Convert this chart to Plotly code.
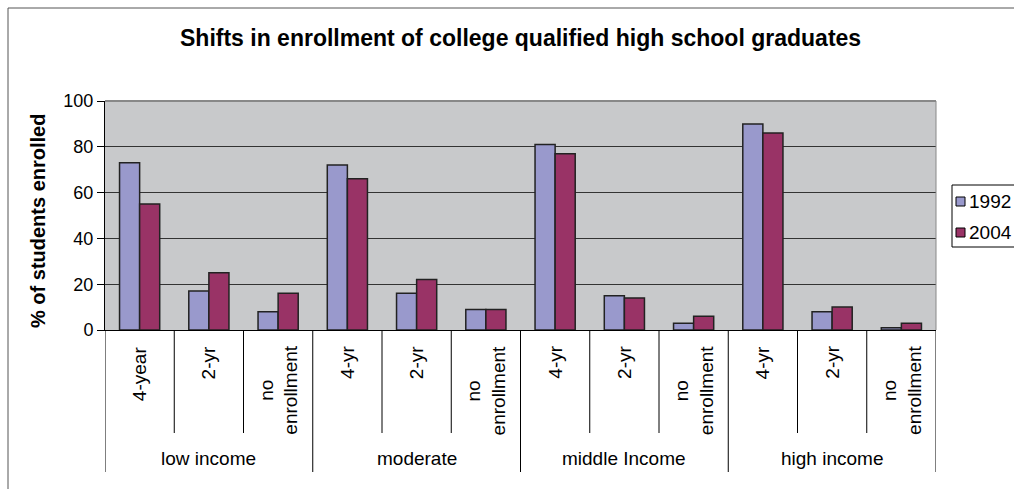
import plotly.graph_objects as go

title = "Shifts in enrollment of college qualified high school graduates"
y_title = "% of students enrolled"
groups = ["low income", "moderate", "middle Income", "high income"]
inner_labels = ["4-year", "2-yr", "no<br>enrollment",
                "4-yr", "2-yr", "no<br>enrollment",
                "4-yr", "2-yr", "no<br>enrollment",
                "4-yr", "2-yr", "no<br>enrollment"]
series_names = ["1992", "2004"]
values_1992 = [73, 17, 8, 72, 16, 9, 81, 15, 3, 90, 8, 1]
values_2004 = [55, 25, 16, 66, 22, 9, 77, 14, 6, 86, 10, 3]
colors = ["#9999CC", "#993366"]
y_ticks = [0, 20, 40, 60, 80, 100]

FONT = "Liberation Sans, Arial, sans-serif"
x_idx = list(range(len(inner_labels)))

fig = go.Figure()
for name, vals, col in zip(series_names, [values_1992, values_2004], colors):
    fig.add_trace(go.Bar(x=x_idx, y=vals, name=name, marker_color=col,
                         marker_line=dict(color="#222222", width=1.5),
                         showlegend=False))

W, H = 1014, 489
L, R, T, B = 105, 78, 101, 159
pw, ph = W - L - R, H - T - B

def px_x(p):
    return (p - L) / pw

def px_y(p):
    return (H - B - p) / ph

shapes = []
annotations = []
# outer frame
shapes.append(dict(type="rect", xref="paper", yref="paper",
                   x0=px_x(8), x1=px_x(1030), y0=px_y(500), y1=px_y(8),
                   line=dict(color="#555555", width=1), layer="below"))
# category separators
for i in range(len(inner_labels) + 1):
    outer = (i % 3 == 0)
    shapes.append(dict(type="line", xref="x", yref="paper",
                       x0=i - 0.5, x1=i - 0.5, y0=0,
                       y1=px_y(472) if outer else px_y(433),
                       line=dict(color="#000000", width=1)))
# inner labels
for i, lab in enumerate(inner_labels):
    annotations.append(dict(x=i, xref="x", y=px_y(344), yref="paper",
                            text=lab, textangle=-90, showarrow=False,
                            xanchor="center", yanchor="top", align="center",
                            font=dict(family=FONT, size=19, color="#000")))
# group labels
for g, name in enumerate(groups):
    annotations.append(dict(x=3 * g + 1, xref="x", y=px_y(459), yref="paper",
                            text=name, showarrow=False, xanchor="center",
                            yanchor="middle",
                            font=dict(family=FONT, size=19, color="#000")))
# title
annotations.append(dict(x=0.5, xref="paper", y=px_y(38), yref="paper",
                        text="<b>" + title + "</b>", showarrow=False,
                        xanchor="center", yanchor="middle",
                        font=dict(family=FONT, size=23, color="#000")))
# y title
annotations.append(dict(x=px_x(38), xref="paper", y=px_y(221), yref="paper",
                        text="<b>" + y_title + "</b>", showarrow=False,
                        textangle=-90, xanchor="center", yanchor="middle",
                        font=dict(family=FONT, size=20, color="#000")))
# manual legend
shapes.append(dict(type="rect", xref="paper", yref="paper",
                   x0=px_x(952), x1=px_x(1030), y0=px_y(247), y1=px_y(185),
                   line=dict(color="#000000", width=1), fillcolor="white"))
for k, (name, col) in enumerate(zip(series_names, colors)):
    cy = 201 + 31 * k
    shapes.append(dict(type="rect", xref="paper", yref="paper",
                       x0=px_x(956), x1=px_x(965), y0=px_y(cy + 5), y1=px_y(cy - 4),
                       line=dict(color="#000000", width=1), fillcolor=col))
    annotations.append(dict(x=px_x(967), xref="paper", y=px_y(cy), yref="paper",
                            text=name, showarrow=False, xanchor="left",
                            yanchor="middle",
                            font=dict(family=FONT, size=19, color="#000")))

fig.update_layout(
    width=W, height=H,
    margin=dict(l=L, r=R, t=T, b=B, pad=0),
    paper_bgcolor="white", plot_bgcolor="#C8C9CB",
    barmode="group", bargap=0.42, bargroupgap=0,
    shapes=shapes, annotations=annotations,
    font=dict(family=FONT, size=18, color="#000"),
    xaxis=dict(range=[-0.5, len(inner_labels) - 0.5], showticklabels=False,
               showgrid=False, zeroline=False, showline=True,
               linecolor="#000", linewidth=1, ticks=""),
    yaxis=dict(range=[0, 100], tickvals=y_ticks, showgrid=True,
               gridcolor="#333333", gridwidth=1, zeroline=False,
               showline=True, linecolor="#000", linewidth=1,
               ticks="outside", ticklen=7, tickcolor="#000",
               tickfont=dict(family=FONT, size=18, color="#000")),
)
# top and right border of plot area
fig.add_shape(type="line", xref="paper", yref="paper", x0=0, x1=1, y0=1, y1=1,
              line=dict(color="#888888", width=2))
fig.add_shape(type="line", xref="paper", yref="paper", x0=1, x1=1, y0=0, y1=1,
              line=dict(color="#888888", width=1))

fig.write_html("out.html")
